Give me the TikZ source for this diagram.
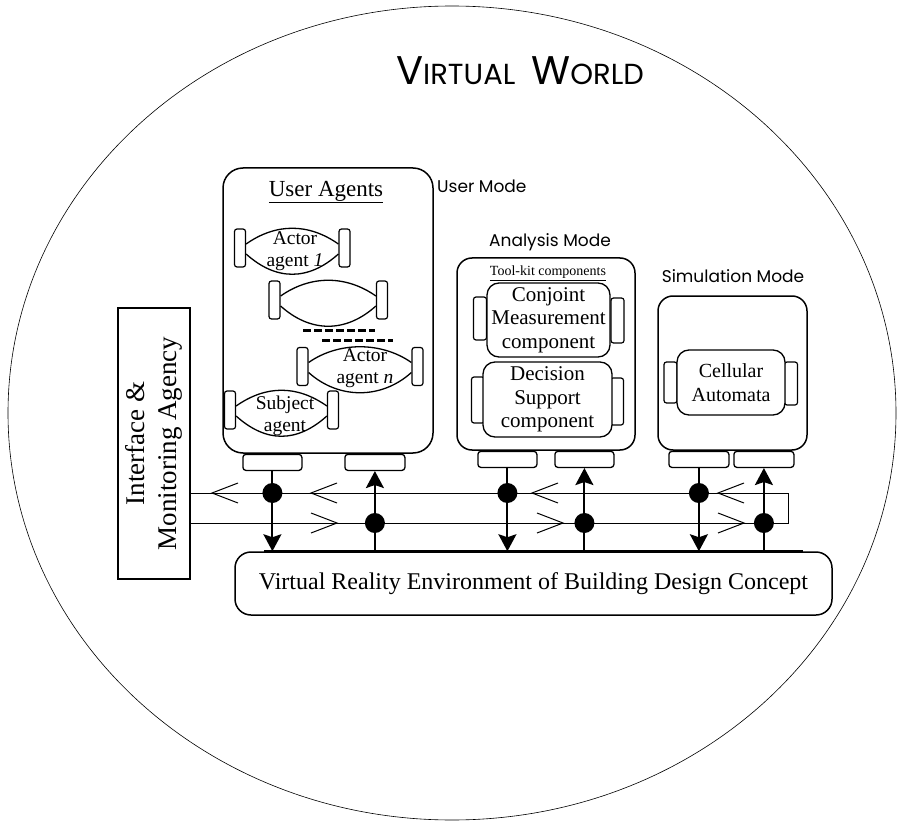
\documentclass[tikz,border=0pt]{standalone}
\usepackage{fontspec}
\setmainfont{Liberation Serif}
\newfontfamily\modefont{Poppins}
\usetikzlibrary{arrows.meta}
\usetikzlibrary{positioning}

\newcommand{\fsz}[2]{\fontsize{#1}{#2}\selectfont}

\begin{document}
\begin{tikzpicture}[x=1pt,y=-1pt,
	mode box/.style={draw,line width=1.5pt,rounded corners=15pt,inner sep=0pt},
	comp box/.style={draw,fill=white,line width=1.3pt,rounded corners=12pt,
		align=center,inner sep=0pt,font=\fsz{21}{23.5}},
	side tab/.style={draw,fill=white,line width=1.2pt,rounded corners=2.5pt,
		minimum width=13pt,inner sep=0pt},
	port box/.style={draw,line width=1.3pt,rounded corners=3pt,
		minimum height=16pt,inner sep=0pt},
	bus dot/.style={circle,fill=black,minimum size=20pt,inner sep=0pt},
	flow/.style={line width=2pt,-{Stealth[length=17pt,width=18pt,inset=3pt]}},
	bus/.style={line width=1pt},
	chevron/.style={line width=1pt},
	lens/.style={line width=1.3pt},
	gap dash/.style={line width=3pt,dash pattern=on 8pt off 3pt},
	agent text/.style={font=\fsz{19.5}{22},align=center,inner sep=0pt},
	mode label/.style={font=\modefont\fsz{17}{20},inner sep=0pt}]
	
	\useasboundingbox (0,0) rectangle (897,821);
	\draw[line width=0.6pt] (452,413) ellipse [x radius=444, y radius=407];
	
	\node[font=\modefont,inner sep=0pt] (title) at (520,71)
	{{\fsz{40}{40}V}{\fsz{29}{29}IRTUAL}\hspace{16pt}{\fsz{40}{40}W}{\fsz{29}{29}ORLD}};
	
	% the three modes
	\node[mode box,rounded corners=20pt,minimum width=210pt,minimum height=285pt] (umode) at (328,310.5) {};
	\node[mode box,minimum width=178pt,minimum height=192pt] (amode) at (546,354) {};
	\node[mode box,minimum width=149pt,minimum height=154pt] (smode) at (732.5,373) {};
	
	\node[mode label,anchor=west] (ulabel) at (437,186) {User Mode};
	\node[mode label] (alabel) at (550,242) {Analysis Mode};
	\node[mode label] (slabel) at (733,276) {Simulation Mode};
	
	\node[port box,minimum width=59pt,below right=0pt and 20pt of umode.south west] (uout) {};
	\node[port box,minimum width=60pt,below right=0pt and 122pt of umode.south west] (uin) {};
	\node[port box,minimum width=59pt,below right=0pt and 21pt of amode.south west] (aout) {};
	\node[port box,minimum width=59pt,below right=0pt and 98pt of amode.south west] (ain) {};
	\node[port box,minimum width=60pt,below right=0pt and 11pt of smode.south west] (sout) {};
	\node[port box,minimum width=60pt,below right=0pt and 76pt of smode.south west] (sin) {};
	
	% user agents
	\node[font=\fsz{23}{26},inner sep=0pt] (uahead) at (326,192) {\underline{User Agents}};
	\foreach \n/\xl/\xr/\cy in {aone/240/344.5/248, atwo/274.5/382/300,
		an/302.5/417.5/366.5, subj/230/333/410} {
		\node[side tab,minimum width=11pt,minimum height=38pt] (\n l) at (\xl,\cy) {};
		\node[side tab,minimum width=11pt,minimum height=38pt] (\n r) at (\xr,\cy) {};
		\draw[lens] ([yshift=4pt]\n l.east) .. controls +(30pt,21pt) and +(-30pt,21pt) .. ([yshift=4pt]\n r.west)
		([yshift=-6pt]\n l.east) .. controls +(30pt,-27pt) and +(-30pt,-27pt) .. ([yshift=-6pt]\n r.west);
	}
	\node[agent text] (aonet) at (295,251) {Actor\\agent \textit{1}};
	\node[agent text] (ant) at (365,368) {Actor\\agent \textit{n}};
	\node[agent text] (subjt) at (285,416) {Subject\\agent};
	\draw[gap dash] (303,330) -- (375,330);
	\draw[gap dash] (322,340) -- (393,340);
	
	% tool-kit components
	\node[font=\fsz{14}{16},inner sep=0pt] (tkhead) at (548,273) {\underline{Tool-kit components}};
	\node[side tab,minimum height=43pt] (cjl) at (480,318.5) {};
	\node[side tab,minimum height=45pt] (cjr) at (617.5,320.5) {};
	\node[comp box,minimum width=123pt,minimum height=74pt] (cj) at (548.5,320) {Conjoint\\Measurement\\component};
	\node[side tab,minimum height=46pt] (dsl) at (478,400) {};
	\node[side tab,minimum height=47pt] (dsr) at (617,401.5) {};
	\node[comp box,minimum width=129pt,minimum height=75pt] (ds) at (547.5,399.5) {Decision\\Support\\component};
	
	% simulation
	\node[side tab,minimum height=41pt] (cal) at (670.5,382.5) {};
	\node[side tab,minimum height=43pt] (car) at (791,383.5) {};
	\node[comp box,minimum width=108pt,minimum height=65pt,font=\fsz{20}{24}] (ca) at (731,382.5) {Cellular\\Automata};
	
	% interface and environment
	\node[draw,line width=1.5pt,rotate=90,minimum width=271pt,minimum height=72pt,
		align=center,inner sep=0pt,font=\fsz{27}{32}] (ifc) at (154,443.5) {Interface \&\\Monitoring Agency};
	\node[draw,line width=1.5pt,rounded corners=16pt,minimum width=597pt,minimum height=63pt,
		font=\fsz{24}{28}] (vr) at (533.5,583.5) {Virtual Reality Environment of Building Design Concept};
	\draw[line width=3pt] ([xshift=30pt]vr.north west) -- ([xshift=-30pt]vr.north east);
	
	% bus
	\coordinate (loopne) at (788,493);
	\coordinate (loopse) at (788,523);
	\draw[bus] (ifc.south |- loopne) -- (loopne) -- (loopse) -- (ifc.south |- loopse);
	\foreach \t in {212,311,532,718}
	\draw[chevron] (\t+26,483) -- (\t,493) -- (\t+26,503);
	\foreach \t in {337,563,744}
	\draw[chevron] (\t-26,513) -- (\t,523) -- (\t-26,533);
	
	\foreach \p in {uout,aout,sout} {
		\draw[flow] (\p.south) -- (\p.south |- vr.north);
		\node[bus dot] (\p dot) at (\p.south |- loopne) {};
	}
	\foreach \p in {uin,ain,sin} {
		\draw[flow] (\p.south |- vr.north) -- (\p.south);
		\node[bus dot] (\p dot) at (\p.south |- loopse) {};
	}
\end{tikzpicture}
\end{document}
